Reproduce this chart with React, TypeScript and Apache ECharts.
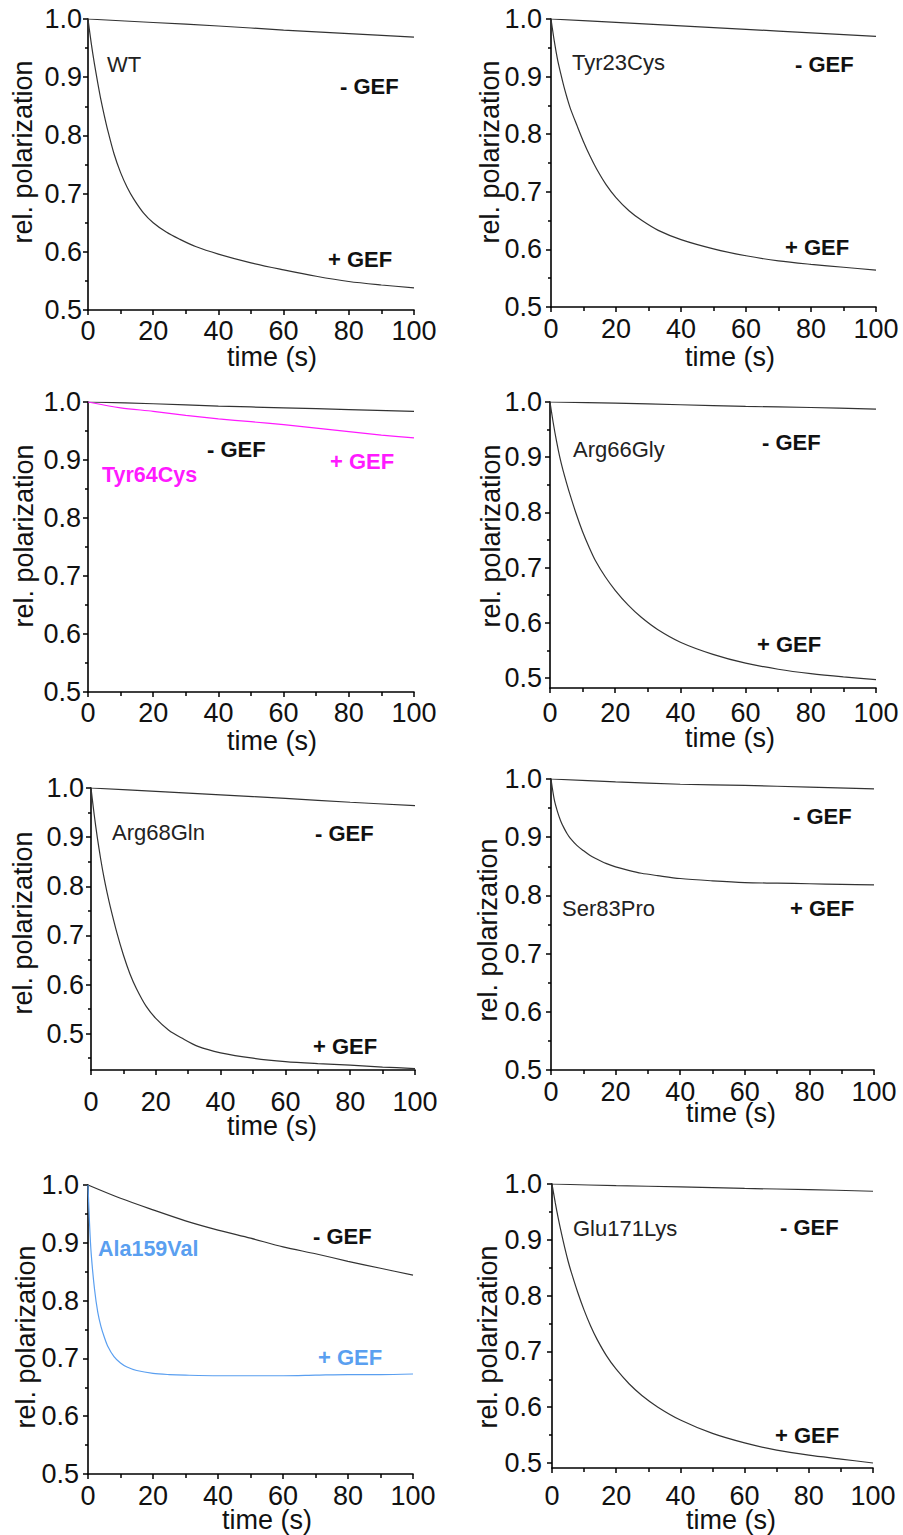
import React, { useEffect, useRef } from "react";
import * as echarts from "echarts";

// ---------- data ----------
const T_PLUS = [0, 1, 2, 3, 4, 5, 6, 8, 10, 12, 14, 17, 20, 24, 28, 33, 40, 50, 60, 70, 80, 90, 100];
const T_MINUS = [0, 20, 40, 60, 80, 100];
const T_DECA = [0, 10, 20, 30, 40, 50, 60, 70, 80, 90, 100];
const T_ALA = [0, 0.5, 1, 2, 3, 4, 5, 6, 8, 10, 12, 15, 20, 25, 30, 40, 50, 60, 70, 80, 90, 100];

const WT_PLUS = [1.0, 0.958, 0.922, 0.89, 0.86, 0.834, 0.81, 0.768, 0.736, 0.711, 0.691, 0.667, 0.65, 0.634, 0.622, 0.609, 0.596, 0.581, 0.569, 0.558, 0.549, 0.543, 0.538];
const WT_MINUS = [1.0, 0.994, 0.988, 0.981, 0.975, 0.969];

const TYR23_PLUS = [1.0, 0.962, 0.93, 0.905, 0.882, 0.862, 0.844, 0.815, 0.787, 0.762, 0.74, 0.712, 0.69, 0.667, 0.65, 0.633, 0.617, 0.601, 0.589, 0.58, 0.574, 0.569, 0.564];
const TYR23_MINUS = [1.0, 0.994, 0.988, 0.982, 0.976, 0.97];

const TYR64_PLUS = [1.0, 0.99, 0.984, 0.977, 0.971, 0.966, 0.961, 0.955, 0.949, 0.943, 0.938];
const TYR64_MINUS = [1.0, 0.997, 0.993, 0.99, 0.987, 0.984];

const ARG66_PLUS = [1.0, 0.962, 0.929, 0.9, 0.876, 0.855, 0.835, 0.798, 0.765, 0.737, 0.712, 0.683, 0.659, 0.632, 0.61, 0.588, 0.565, 0.543, 0.527, 0.516, 0.508, 0.502, 0.497];
const ARG66_MINUS = [1.0, 0.998, 0.995, 0.992, 0.99, 0.987];

const ARG68_PLUS = [1.0, 0.945, 0.897, 0.855, 0.818, 0.786, 0.757, 0.705, 0.66, 0.622, 0.592, 0.556, 0.531, 0.507, 0.491, 0.474, 0.461, 0.45, 0.443, 0.439, 0.436, 0.432, 0.429];
const ARG68_MINUS = [1.0, 0.993, 0.986, 0.979, 0.971, 0.964];

const SER83_PLUS = [1.0, 0.965, 0.944, 0.928, 0.916, 0.906, 0.898, 0.886, 0.877, 0.869, 0.863, 0.855, 0.849, 0.843, 0.838, 0.834, 0.829, 0.825, 0.822, 0.821, 0.82, 0.819, 0.818];
const SER83_MINUS = [1.0, 0.995, 0.991, 0.989, 0.986, 0.983];

const ALA159_PLUS = [1.0, 0.93, 0.88, 0.82, 0.78, 0.755, 0.737, 0.722, 0.703, 0.692, 0.685, 0.679, 0.674, 0.672, 0.671, 0.67, 0.67, 0.67, 0.671, 0.672, 0.672, 0.673];
const ALA159_MINUS = [1.0, 0.977, 0.957, 0.938, 0.922, 0.908, 0.893, 0.881, 0.868, 0.856, 0.844];

const GLU171_PLUS = [1.0, 0.967, 0.937, 0.91, 0.885, 0.862, 0.842, 0.806, 0.774, 0.746, 0.722, 0.692, 0.668, 0.642, 0.621, 0.6, 0.577, 0.553, 0.536, 0.523, 0.514, 0.507, 0.5];
const GLU171_MINUS = [1.0, 0.997, 0.995, 0.992, 0.99, 0.987];

const X_TICKS = [0, 20, 40, 60, 80, 100];
const Y_TICKS = [0.5, 0.6, 0.7, 0.8, 0.9, 1.0];
const Y_MINOR = [0.45, 0.55, 0.65, 0.75, 0.85, 0.95];

const MUTANTS = ["WT", "Tyr23Cys", "Tyr64Cys", "Arg66Gly", "Arg68Gln", "Ser83Pro", "Ala159Val", "Glu171Lys"];
const PLUS_LABEL = "+ GEF";
const MINUS_LABEL = "- GEF";
const X_NAME = "time (s)";
const Y_NAME = "rel. polarization";

const BLACK = "#222";
const MAGENTA = "#ff1aff";
const BLUE = "#5a9ff0";

const FONT = '"Liberation Sans", Arial, sans-serif';
const TICK_FS = 27;

type Panel = {
  name: string;
  plusT: number[];
  plus: number[];
  minusT: number[];
  minus: number[];
  plusColor: string;
  box: { left: number; top: number; width: number; height: number };
  ymin: number;
  xMargin: number;
  yMargin: number;
  nameAt: [number, number];
  nameColor: string;
  minusAt: [number, number];
  plusAt: [number, number];
  xNameAt: [number, number];
  yNameAt: [number, number];
};

const PANELS: Panel[] = [
  { name: MUTANTS[0], plusT: T_PLUS, plus: WT_PLUS, minusT: T_MINUS, minus: WT_MINUS, plusColor: BLACK,
    box: { left: 88, top: 19, width: 326, height: 291 }, ymin: 0.5, xMargin: 7.5, yMargin: 6,
    nameAt: [107, 64], nameColor: BLACK, minusAt: [340, 86], plusAt: [328, 259], xNameAt: [272, 357], yNameAt: [23, 152] },
  { name: MUTANTS[1], plusT: T_PLUS, plus: TYR23_PLUS, minusT: T_MINUS, minus: TYR23_MINUS, plusColor: BLACK,
    box: { left: 551, top: 19, width: 325, height: 288 }, ymin: 0.5, xMargin: 8.5, yMargin: 9,
    nameAt: [572, 62], nameColor: BLACK, minusAt: [795, 64], plusAt: [785, 247], xNameAt: [730, 357], yNameAt: [490, 152] },
  { name: MUTANTS[2], plusT: T_DECA, plus: TYR64_PLUS, minusT: T_MINUS, minus: TYR64_MINUS, plusColor: MAGENTA,
    box: { left: 88, top: 402, width: 326, height: 290 }, ymin: 0.5, xMargin: 7.5, yMargin: 7,
    nameAt: [102, 475], nameColor: MAGENTA, minusAt: [207, 449], plusAt: [330, 461], xNameAt: [272, 741], yNameAt: [24, 536] },
  { name: MUTANTS[3], plusT: T_PLUS, plus: ARG66_PLUS, minusT: T_MINUS, minus: ARG66_MINUS, plusColor: BLACK,
    box: { left: 550, top: 402, width: 326, height: 286 }, ymin: 0.482, xMargin: 11.5, yMargin: 8,
    nameAt: [573, 449], nameColor: BLACK, minusAt: [762, 442], plusAt: [757, 644], xNameAt: [730, 738], yNameAt: [491, 536] },
  { name: MUTANTS[4], plusT: T_PLUS, plus: ARG68_PLUS, minusT: T_MINUS, minus: ARG68_MINUS, plusColor: BLACK,
    box: { left: 91, top: 788, width: 324, height: 282 }, ymin: 0.426, xMargin: 18.5, yMargin: 7,
    nameAt: [112, 832], nameColor: BLACK, minusAt: [315, 833], plusAt: [313, 1046], xNameAt: [272, 1126], yNameAt: [23, 923] },
  { name: MUTANTS[5], plusT: T_PLUS, plus: SER83_PLUS, minusT: T_MINUS, minus: SER83_MINUS, plusColor: BLACK,
    box: { left: 551, top: 779, width: 323, height: 291 }, ymin: 0.5, xMargin: 8.5, yMargin: 9,
    nameAt: [562, 908], nameColor: BLACK, minusAt: [793, 816], plusAt: [790, 908], xNameAt: [731, 1113], yNameAt: [488, 930] },
  { name: MUTANTS[6], plusT: T_ALA, plus: ALA159_PLUS, minusT: T_DECA, minus: ALA159_MINUS, plusColor: BLUE,
    box: { left: 88, top: 1185, width: 325, height: 289 }, ymin: 0.5, xMargin: 8.5, yMargin: 9,
    nameAt: [98, 1249], nameColor: BLUE, minusAt: [313, 1236], plusAt: [318, 1357], xNameAt: [267, 1520], yNameAt: [26, 1337] },
  { name: MUTANTS[7], plusT: T_PLUS, plus: GLU171_PLUS, minusT: T_MINUS, minus: GLU171_MINUS, plusColor: BLACK,
    box: { left: 552, top: 1184, width: 321, height: 284 }, ymin: 0.491, xMargin: 14.5, yMargin: 10,
    nameAt: [573, 1228], nameColor: BLACK, minusAt: [780, 1227], plusAt: [775, 1435], xNameAt: [731, 1520], yNameAt: [488, 1337] },
];

function buildOption() {
  const grid: any[] = [];
  const xAxis: any[] = [];
  const yAxis: any[] = [];
  const series: any[] = [];
  const graphic: any[] = [];

  PANELS.forEach((p, i) => {
    grid.push({ ...p.box, outerBoundsMode: "none", containLabel: false });
    xAxis.push({
      type: "value",
      gridIndex: i,
      min: 0,
      max: 100,
      interval: 20,
      axisLine: { show: true, onZero: false, lineStyle: { color: "#000", width: 1.6 } },
      axisTick: { show: true, inside: false, length: 5, lineStyle: { color: "#000", width: 1.5 } },
      minorTick: { show: true, splitNumber: 2, length: 4, lineStyle: { color: "#000", width: 1.5 } },
      axisLabel: { show: true, fontSize: TICK_FS, fontFamily: FONT, color: "#111", margin: p.xMargin, customValues: X_TICKS },
      splitLine: { show: false },
      minorSplitLine: { show: false },
    });
    const majors = Y_TICKS.filter((v) => v >= p.ymin - 1e-9);
    const minors = Y_MINOR.filter((v) => v >= p.ymin - 1e-9);
    yAxis.push({
      type: "value",
      gridIndex: i,
      min: p.ymin,
      max: 1.0,
      position: "left",
      axisLine: { show: true, onZero: false, lineStyle: { color: "#000", width: 1.6 } },
      axisTick: { show: true, inside: false, length: 5, customValues: majors, lineStyle: { color: "#000", width: 1.5 } },
      axisLabel: {
        show: true,
        customValues: majors,
        fontSize: TICK_FS,
        fontFamily: FONT,
        color: "#111",
        margin: p.yMargin,
        formatter: (v: number) => v.toFixed(1),
      },
      splitLine: { show: false },
    });
    yAxis.push({
      type: "value",
      gridIndex: i,
      min: p.ymin,
      max: 1.0,
      position: "left",
      offset: 0,
      axisLine: { show: false },
      axisTick: { show: true, inside: false, length: 3, customValues: minors, lineStyle: { color: "#000", width: 1.5 } },
      axisLabel: { show: false },
      splitLine: { show: false },
    });

    series.push({
      type: "line",
      name: p.name + " " + MINUS_LABEL,
      xAxisIndex: i,
      yAxisIndex: 2 * i,
      data: p.minusT.map((t, k) => [t, p.minus[k]]),
      showSymbol: false,
      smooth: 0.3,
      lineStyle: { color: "#333", width: 1.2 },
      z: 3,
    });
    series.push({
      type: "line",
      name: p.name + " " + PLUS_LABEL,
      xAxisIndex: i,
      yAxisIndex: 2 * i,
      data: p.plusT.map((t, k) => [t, p.plus[k]]),
      showSymbol: false,
      smooth: 0.3,
      lineStyle: { color: p.plusColor === BLACK ? "#333" : p.plusColor, width: 1.2 },
      z: 4,
    });

    const txt = (text: string, x: number, y: number, color: string, bold: boolean, size: number) => ({
      type: "text",
      x,
      y,
      silent: true,
      style: {
        text,
        fill: color,
        fontSize: size,
        fontFamily: FONT,
        fontWeight: bold ? "bold" : "normal",
        align: "left",
        verticalAlign: "middle",
      },
    });
    const colored = p.nameColor !== BLACK;
    graphic.push(txt(p.name, p.nameAt[0], p.nameAt[1], p.nameColor, colored, colored ? 21.5 : 22));
    graphic.push(txt(MINUS_LABEL, p.minusAt[0], p.minusAt[1], "#111", true, 22));
    graphic.push(txt(PLUS_LABEL, p.plusAt[0], p.plusAt[1], p.plusColor === BLACK ? "#111" : p.plusColor, true, 22));
    graphic.push({
      type: "text",
      x: p.xNameAt[0],
      y: p.xNameAt[1],
      silent: true,
      style: { text: X_NAME, fill: "#111", fontSize: 27, fontFamily: FONT, align: "center", verticalAlign: "middle" },
    });
    graphic.push({
      type: "text",
      x: p.yNameAt[0],
      y: p.yNameAt[1],
      rotation: Math.PI / 2,
      silent: true,
      style: { text: Y_NAME, fill: "#111", fontSize: 27, fontFamily: FONT, align: "center", verticalAlign: "middle" },
    });
  });

  return {
    animation: false,
    backgroundColor: "#fff",
    grid,
    xAxis,
    yAxis,
    series,
    graphic,
  };
}

export default function App() {
  const ref = useRef<HTMLDivElement>(null);
  useEffect(() => {
    if (!ref.current) return;
    const chart = echarts.init(ref.current, undefined, { renderer: "svg" });
    chart.setOption(buildOption() as any);
    return () => chart.dispose();
  }, []);
  return (
    <div
      ref={ref}
      style={{ position: "absolute", left: 0, top: 0, width: 903, height: 1535, background: "#fff" }}
    />
  );
}
